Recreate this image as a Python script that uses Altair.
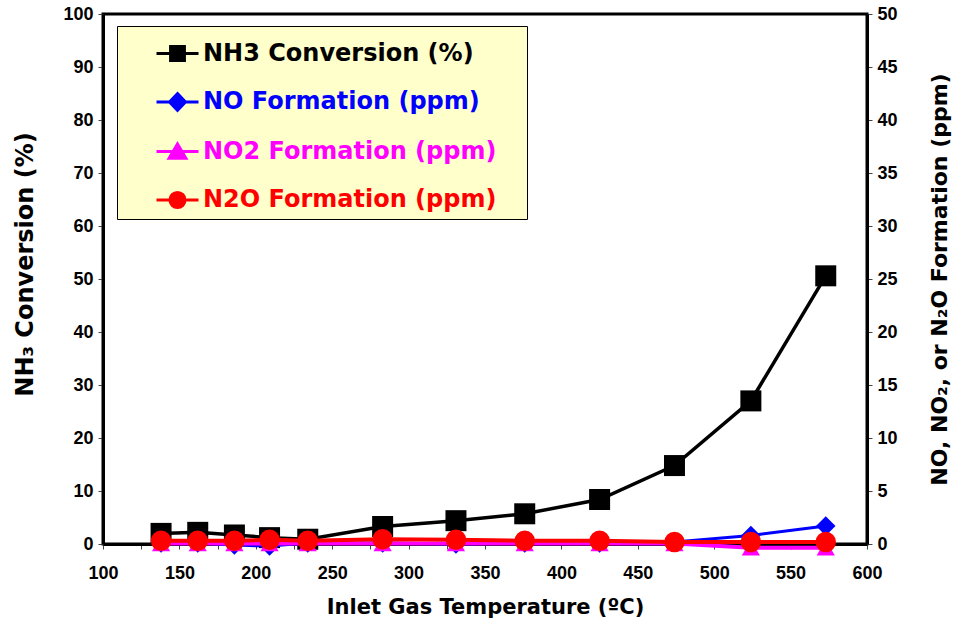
import altair as alt
import pandas as pd

# ---- data ----
temps = [138, 162, 186, 209, 234, 283, 331, 376, 425, 474, 524, 573]
nh3_conv = [2.0, 2.2, 1.7, 1.2, 0.9, 3.3, 4.4, 5.7, 8.4, 14.8, 27.0, 50.6]
no_ppm = [0.1, 0.1, -0.1, -0.2, 0.1, 0.1, 0.0, 0.1, 0.1, 0.2, 0.8, 1.7]
no2_ppm = [0.05, 0.05, 0.05, 0.05, 0.05, 0.05, 0.05, 0.05, 0.05, 0.05, -0.35, -0.35]
n2o_ppm = [0.3, 0.3, 0.3, 0.4, 0.3, 0.45, 0.4, 0.3, 0.3, 0.2, 0.2, 0.2]

series_names = ["NH3 Conversion (%)", "NO Formation (ppm)", "NO2 Formation (ppm)", "N2O Formation (ppm)"]
series_colors = ["#000000", "#0000FF", "#FF00FF", "#FF0000"]

x_ticks = [100, 125, 150, 175, 200, 225, 250, 275, 300, 325, 350, 375, 400,
           425, 450, 475, 500, 525, 550, 575, 600]
left_ticks = [0, 10, 20, 30, 40, 50, 60, 70, 80, 90, 100]
right_ticks = [0, 5, 10, 15, 20, 25, 30, 35, 40, 45, 50]

# legend symbols: a short line with the marker on it
legend_paths = [
    "M-1,0L1,0M-0.33,-0.33L0.33,-0.33L0.33,0.33L-0.33,0.33Z",
    "M-1,0L1,0M0,-0.4L0.38,0L0,0.4L-0.38,0Z",
    "M-1,0L1,0M0,-0.36L0.4,0.32L-0.4,0.32Z",
    "M-1,0L1,0M-0.36,0A0.36,0.36,0,1,0,0.36,0A0.36,0.36,0,1,0,-0.36,0Z",
]

FONT = "Liberation Sans"
TFONT = "DejaVu Sans"


def frame(values, name):
    return pd.DataFrame({"temp": temps, "value": values, "series": name})


df_nh3 = frame(nh3_conv, series_names[0])
df_no = frame(no_ppm, series_names[1])
df_no2 = frame(no2_ppm, series_names[2])
df_n2o = frame(n2o_ppm, series_names[3])
df_all = pd.concat([df_nh3, df_no, df_no2, df_n2o], ignore_index=True)

x_enc = alt.X(
    "temp:Q",
    scale=alt.Scale(domain=[100, 600], nice=False, zero=False),
    axis=alt.Axis(
        values=x_ticks,
        labelExpr="datum.value % 50 === 0 ? datum.label : ''",
        title="Inlet Gas Temperature (ºC)",
        titlePadding=14,
        labelPadding=15,
        labelFlush=False,
        labelOverlap=False,
    ),
)

y_left = alt.Y(
    "value:Q",
    scale=alt.Scale(domain=[0, 100], nice=False),
    axis=alt.Axis(
        orient="left",
        values=left_ticks,
        title="NH₃ Conversion (%)",
        titleFontSize=24,
        titlePadding=25,
        titleY=250,
        labelPadding=5,
        labelFlush=False,
    ),
)

y_right = alt.Y(
    "value:Q",
    scale=alt.Scale(domain=[0, 50], nice=False),
    axis=alt.Axis(
        orient="right",
        values=right_ticks,
        title="NO, NO₂, or N₂O Formation (ppm)",
        titleAngle=270,
        titleBaseline="top",
        titleFontSize=22,
        titlePadding=32,
        labelPadding=5,
        labelFlush=False,
    ),
)

label_color_expr = " : ".join(
    f"datum.value === '{n}' ? '{c}'" for n, c in zip(series_names[:-1], series_colors[:-1])
) + f" : '{series_colors[-1]}'"

legend = alt.Legend(
    title=None,
    orient="none",
    legendX=14,
    legendY=12,
    fillColor="#FFFFCC",
    strokeColor="#000000",
    padding=5,
    symbolOffset=33,
    labelOffset=3,
    rowPadding=12.5,
    symbolSize=1764,
    symbolStrokeWidth=3,
    labelFont=TFONT,
    labelFontSize=24,
    labelFontWeight="bold",
    labelLimit=0,
    labelColor=alt.ExprRef(label_color_expr),
    labelExpr="datum.label + '\u00a0\u00a0\u00a0\u200b'",
)


def line(df, color, width, y):
    return alt.Chart(df).mark_line(color=color, strokeWidth=width).encode(x=x_enc, y=y)


def pts(df, color, shape, size, y):
    return alt.Chart(df).mark_point(
        filled=True, color=color, shape=shape, size=size, opacity=1
    ).encode(x=x_enc, y=y)


legend_layer = (
    alt.Chart(df_all)
    .transform_filter("datum.temp < 0")
    .mark_point(filled=True, strokeWidth=3, opacity=1)
    .encode(
        x=x_enc,
        y=y_left,
        fill=alt.Fill("series:N", scale=alt.Scale(domain=series_names, range=series_colors), legend=legend),
        stroke=alt.Stroke("series:N", scale=alt.Scale(domain=series_names, range=series_colors), legend=legend),
        shape=alt.Shape("series:N", scale=alt.Scale(domain=series_names, range=legend_paths), legend=legend),
    )
)

left = alt.layer(
    line(df_nh3, series_colors[0], 3.5, y_left),
    pts(df_nh3, series_colors[0], "square", 441, y_left),
    legend_layer,
)

right = alt.layer(
    line(df_no, series_colors[1], 3, y_right),
    pts(df_no, series_colors[1], "diamond", 380, y_right),
    line(df_no2, series_colors[2], 4, y_right),
    pts(df_no2, series_colors[2], "triangle-up", 330, y_right),
    line(df_n2o, series_colors[3], 4, y_right),
    pts(df_n2o, series_colors[3], "circle", 420, y_right),
)

chart = (
    alt.layer(left, right)
    .resolve_scale(y="independent")
    .properties(
        width=764,
        height=530,
        padding={"left": 103, "top": 14, "right": 90, "bottom": 82},
        autosize=alt.AutoSizeParams(type="none"),
        background="white",
    )
    .configure_view(stroke="#000000", strokeWidth=3)
    .configure_axis(
        grid=False,
        domainColor="#000000",
        domainWidth=3,
        tickColor="#444444",
        tickSize=5,
        tickWidth=1,
        labelFont=FONT,
        labelFontSize=18,
        labelFontWeight="bold",
        labelColor="#000000",
        titleFont=TFONT,
        titleFontSize=21,
        titleFontWeight="bold",
        titleColor="#000000",
    )
)

chart.save("out.html", embed_options={"renderer": "svg", "actions": False})
